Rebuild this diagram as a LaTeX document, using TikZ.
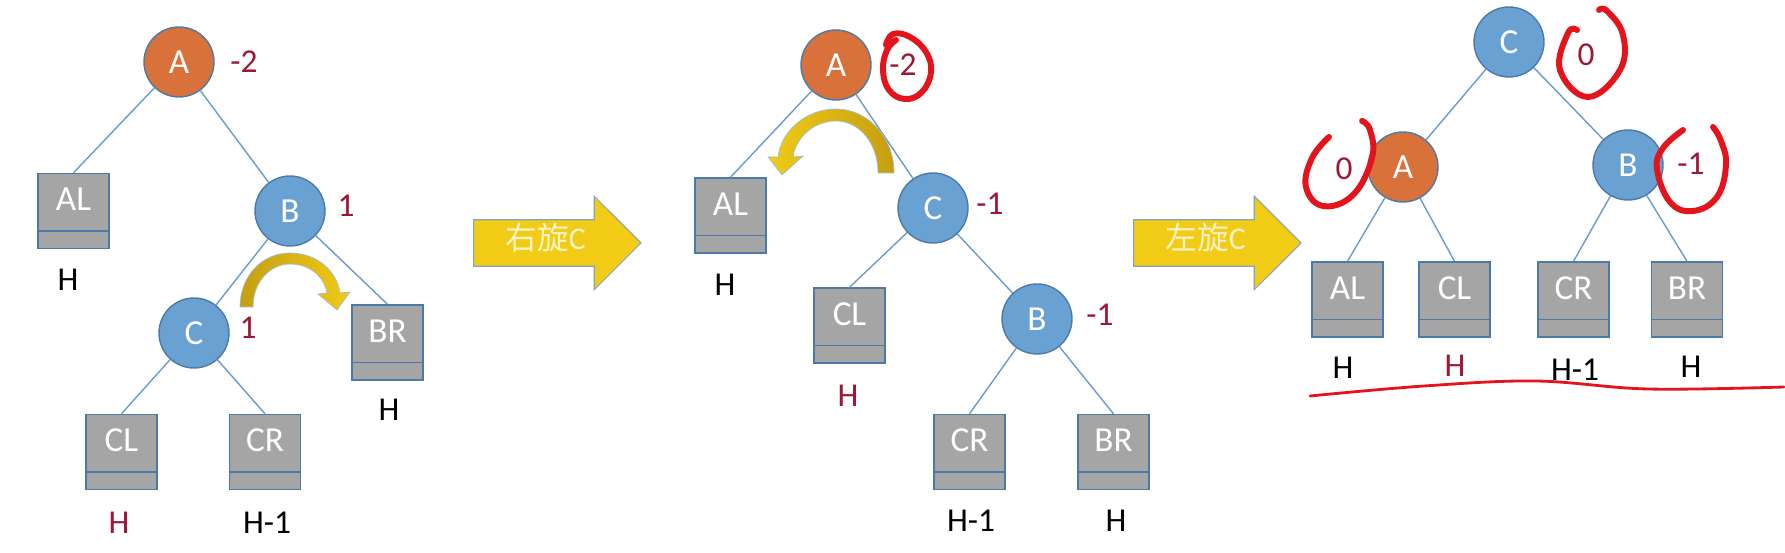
\documentclass[tikz,border=0pt]{standalone}
\usepackage{fontspec}
\setmainfont{Carlito}
\newfontfamily\cjk{Noto Sans CJK SC}
\usepackage{xcolor}
\usepackage{tikz}
\usetikzlibrary{shapes.arrows}

\definecolor{nodeblue}{HTML}{6AA1D3}
\definecolor{nodeorange}{HTML}{D9713A}
\definecolor{rimblue}{HTML}{4A7BA8}
\definecolor{linkblue}{HTML}{6A9CCB}
\definecolor{boxgray}{HTML}{A5A5A5}
\definecolor{bfred}{HTML}{9C1836}
\definecolor{penred}{HTML}{E3141C}
\definecolor{arrowgold}{HTML}{F1CB15}
\definecolor{arrowdark}{HTML}{C49F10}
\definecolor{arrowtext}{HTML}{FCF3C4}

\begin{document}
\begin{tikzpicture}[
x=0.02cm, y=-0.02cm,
avl/.style={draw=rimblue, line width=0.8pt, circle, minimum size=1.4cm, inner sep=0pt, fill=nodeblue, text=white, font=\fontsize{20}{22}\selectfont},
hot/.style={avl, fill=nodeorange},
leaf/.style={draw=rimblue, line width=0.8pt, rectangle, minimum width=1.42cm, minimum height=1.5cm, inner sep=0pt, text height=0.3cm, text depth=0.3cm, fill=boxgray, text=white, font=\fontsize{20}{22}\selectfont},
edge/.style={draw=linkblue, line width=0.8pt},
bf/.style={text=bfred, font=\fontsize{19}{22}\selectfont},
hgt/.style={font=\fontsize{19}{22}\selectfont},
redh/.style={hgt, text=bfred},
redmark/.style={draw=penred, line width=3.4pt, line cap=round, line join=round},
rotate box/.style={single arrow, draw=rimblue!70, line width=0.6pt, fill=arrowgold, text=arrowtext, minimum height=3.35cm, single arrow head extend=0.47cm, text height=0.35cm, text depth=0.1cm, inner ysep=0.23cm, font=\fontsize{18}{20}\selectfont}
]
\useasboundingbox (0,0) rectangle (1785,553);

% left tree
\node[hot] (A1) at (179,62) {A};
\node[avl] (B1) at (290,211) {B};
\node[avl] (C1) at (194,333) {C};
\node[leaf] (AL1) at (73.5,211) {AL};
\node[leaf] (BR1) at (387.5,342.5) {BR};
\node[leaf] (CL1) at (121.5,452) {CL};
\node[leaf] (CR1) at (265,452) {CR};

\draw[edge] (A1) -- (AL1.north);
\draw[edge] (A1) -- (B1);
\draw[edge] (B1) -- (C1);
\draw[edge] (B1) -- (BR1.north);
\draw[edge] (C1) -- (CL1.north);
\draw[edge] (C1) -- (CR1.north);

\node[bf] (bfA1) at (244,62) {-2};
\node[bf] (bfB1) at (346,206) {1};
\node[bf] (bfC1) at (248,328) {1};
\node[hgt] (hAL1) at (68,280) {H};
\node[hgt] (hBR1) at (389,410) {H};
\node[redh] (hCL1) at (119,523) {H};
\node[hgt] (hCR1) at (267,523) {H-1};

\shade[left color=arrowdark, right color=arrowgold, draw=rimblue!50, line width=0.4pt]
(240,307) .. controls (240,276) and (262,253) .. (290,253)
.. controls (317,253) and (337,271) .. (340,293)
-- (350,292) -- (337,310) -- (318,294) -- (327,293)
.. controls (324,276) and (309,264) .. (290,264)
.. controls (270,264) and (253,282) .. (253,307) -- cycle;

% first rotation
\node[rotate box, anchor=tail] (rot1) at (473,243) {{\cjk 右旋}C};

% middle tree
\node[hot] (A2) at (836,65) {A};
\node[avl] (C2) at (933,208) {C};
\node[avl] (B2) at (1037,319) {B};
\node[leaf] (AL2) at (730.5,215.5) {AL};
\node[leaf] (CL2) at (849.5,325.5) {CL};
\node[leaf] (CR2) at (969.5,452) {CR};
\node[leaf] (BR2) at (1113.5,452) {BR};

\draw[edge] (A2) -- (AL2.north);
\draw[edge] (A2) -- (C2);
\draw[edge] (C2) -- (CL2.north);
\draw[edge] (C2) -- (B2);
\draw[edge] (B2) -- (CR2.north);
\draw[edge] (B2) -- (BR2.north);

\node[bf] (bfA2) at (903,65) {-2};
\node[bf] (bfC2) at (990,204) {-1};
\node[bf] (bfB2) at (1100,315) {-1};
\node[hgt] (hAL2) at (725,285) {H};
\node[redh] (hCL2) at (848,396) {H};
\node[hgt] (hCR2) at (971,521) {H-1};
\node[hgt] (hBR2) at (1116,521) {H};

\shade[left color=arrowgold, right color=arrowdark, draw=rimblue!50, line width=0.4pt]
(894,173) .. controls (894,136) and (867,109) .. (836,109)
.. controls (806,109) and (781,131) .. (778,157)
-- (768,157) -- (782,175) -- (803,156) -- (793,157)
.. controls (796,137) and (814,121) .. (836,121)
.. controls (859,121) and (878,143) .. (878,173) -- cycle;

\draw[redmark] plot[smooth, tension=0.7] coordinates {(886,45) (893,34) (910,37) (926,52) (931,72) (922,92) (905,99) (889,90) (883,70) (887,50) (896,40)};

% second rotation
\node[rotate box, anchor=tail] (rot2) at (1133,243) {{\cjk 左旋}C};

% right tree
\node[avl] (C3) at (1509,42) {C};
\node[hot] (A3) at (1403,167) {A};
\node[avl] (B3) at (1628,165) {B};
\node[leaf] (AL3) at (1347.5,299.5) {AL};
\node[leaf] (CL3) at (1454.5,299.5) {CL};
\node[leaf] (CR3) at (1573.5,299.5) {CR};
\node[leaf] (BR3) at (1687,299.5) {BR};

\draw[edge] (C3) -- (A3);
\draw[edge] (C3) -- (B3);
\draw[edge] (A3) -- (AL3.north);
\draw[edge] (A3) -- (CL3.north);
\draw[edge] (B3) -- (CR3.north);
\draw[edge] (B3) -- (BR3.north);

\node[bf] (bfC3) at (1586,55) {0};
\node[bf] (bfA3) at (1344,169) {0};
\node[bf] (bfB3) at (1691,164) {-1};
\node[hgt] (hAL3) at (1343,368) {H};
\node[redh] (hCL3) at (1455,366) {H};
\node[hgt] (hCR3) at (1575,370) {H-1};
\node[hgt] (hBR3) at (1691,367) {H};

\draw[redmark] plot[smooth, tension=0.7] coordinates {(1577,30) (1568,33) (1560,70) (1588,97) (1620,70) (1623,35) (1607,11) (1599,10)};
\draw[redmark] plot[smooth, tension=0.7] coordinates {(1329,137) (1312,158) (1306,187) (1323,206) (1353,195) (1372,158) (1370,130) (1362,121)};
\draw[redmark] plot[smooth, tension=0.7] coordinates {(1683,130) (1663,148) (1657,169) (1670,202) (1693,211) (1717,197) (1726,165) (1721,141) (1713,127)};
\draw[draw=penred, line width=1.6pt, line cap=round] plot[smooth, tension=0.6] coordinates {(1310,396) (1424,386) (1536,381) (1648,389) (1784,387)};

% box dividers
\foreach \b in {AL1,BR1,CL1,CR1,AL2,CL2,CR2,BR2,AL3,CL3,CR3,BR3}
  \draw[draw=rimblue, line width=0.8pt] ([yshift=0.36cm]\b.south west) -- ([yshift=0.36cm]\b.south east);

\end{tikzpicture}
\end{document}
